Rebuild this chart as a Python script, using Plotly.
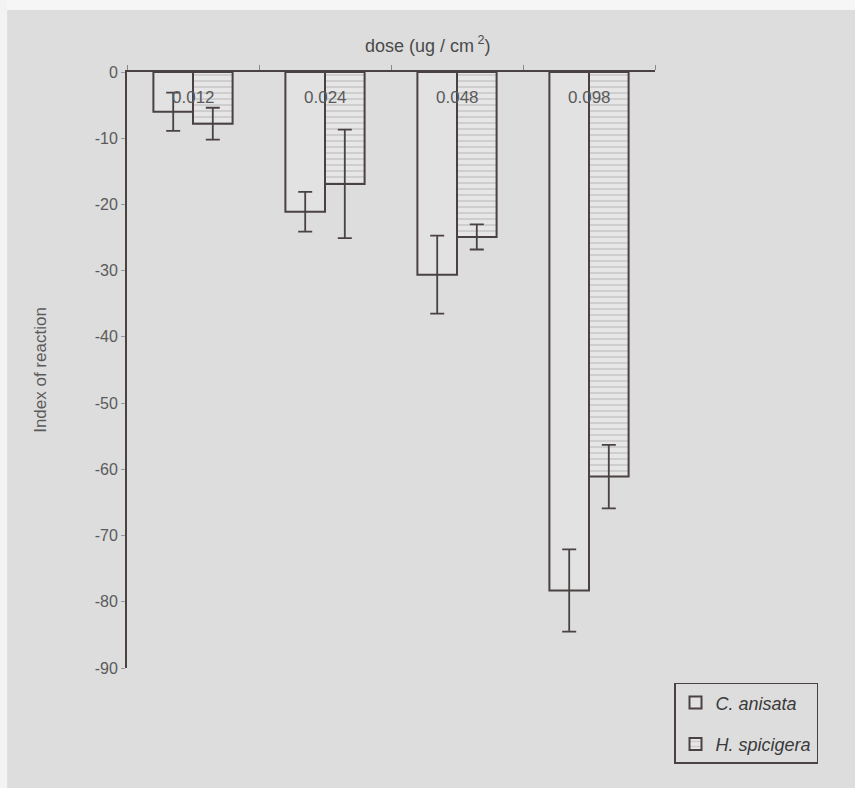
import plotly.graph_objects as go

doses = ["0.012", "0.024", "0.048", "0.098"]
c_anisata = [-6.0, -21.1, -30.6, -78.3]
c_anisata_err = [2.9, 3.0, 5.9, 6.2]
h_spicigera = [-7.8, -16.9, -24.9, -61.1]
h_spicigera_err = [2.4, 8.2, 1.9, 4.8]
y_ticks = [0, -10, -20, -30, -40, -50, -60, -70, -80, -90]
y_tick_text = ["0", "-10", "-20", "-30", "-40", "-50", "-60", "-70", "-80", "-90"]

DARK = "#4a4242"
BG = "#dddddd"
FONT = "Liberation Sans, Arial, sans-serif"

fig = go.Figure()
fig.add_trace(go.Bar(
    x=doses, y=c_anisata, name="<i>C. anisata</i>", legendgroup="a",
    marker=dict(color="#e2e2e2", line=dict(color=DARK, width=2)),
    error_y=dict(type="data", array=c_anisata_err, visible=True,
                 color=DARK, thickness=1.8, width=7),
))
fig.add_trace(go.Bar(
    x=doses, y=h_spicigera, name="<i>H. spicigera</i>", legendgroup="b",
    marker=dict(color="#e6e6e6", line=dict(color=DARK, width=2),
                pattern=dict(shape="-", fgcolor="#a8a8a8", bgcolor="#e6e6e6",
                             size=6, solidity=0.25)),
    error_y=dict(type="data", array=h_spicigera_err, visible=True,
                 color=DARK, thickness=1.8, width=7),
))

for i, d in enumerate(doses):
    fig.add_annotation(x=i, y=-3.8, text=d, showarrow=False,
                       font=dict(family=FONT, size=17, color="#5a5a5a"),
                       xref="x", yref="y")

fig.add_annotation(x=0.57, y=1.0, xref="paper", yref="paper",
                   text="dose (ug / cm<sup> 2</sup>)", showarrow=False,
                   yanchor="bottom", yshift=14,
                   font=dict(family=FONT, size=18, color="#4a4a4a"))

# white margins of the scanned page
fig.add_shape(type="rect", xref="paper", yref="paper",
              x0=-0.3, x1=1.5, y0=1.104, y1=1.2,
              fillcolor="#f6f6f6", line=dict(width=0), layer="below")
fig.add_shape(type="rect", xref="paper", yref="paper",
              x0=-0.3, x1=-0.227, y0=-0.3, y1=1.2,
              fillcolor="#f3f3f3", line=dict(width=0), layer="below")

fig.update_layout(
    width=855, height=788,
    margin=dict(l=127, r=200, t=72, b=120),
    paper_bgcolor=BG, plot_bgcolor=BG,
    barmode="group", bargap=0.4, bargroupgap=0.0,
    font=dict(family=FONT, color="#555555"),
    showlegend=True,
    legend=dict(x=1.036, y=-0.025, xanchor="left", yanchor="top",
                bgcolor=BG, bordercolor=DARK, borderwidth=1.5,
                font=dict(family=FONT, size=18, color="#3a3a3a"),
                itemwidth=30, traceorder="grouped", tracegroupgap=15),
    xaxis=dict(type="category", side="top", showticklabels=False, showgrid=False,
               showline=True, linecolor=DARK, linewidth=1.5,
               ticks="outside", tickson="boundaries", ticklen=5,
               tickcolor="#888888", zeroline=False),
    yaxis=dict(range=[-90, 0], tickvals=y_ticks, ticktext=y_tick_text,
               showgrid=False, zeroline=False,
               showline=True, linecolor=DARK, linewidth=1.8,
               ticks="outside", ticklen=4, tickcolor="#999999",
               tickfont=dict(family=FONT, size=16, color="#5a5a5a"),
               title=dict(text="Index of reaction", standoff=44,
                          font=dict(family=FONT, size=17, color="#5a5a5a"))),
)

fig.write_html("out.html")
